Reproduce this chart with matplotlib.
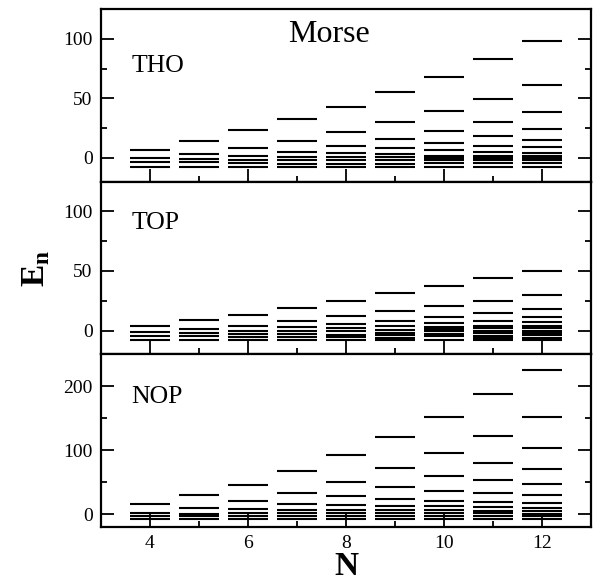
import matplotlib
matplotlib.use("Agg")
import matplotlib.pyplot as plt
from matplotlib.ticker import MultipleLocator

plt.rcParams['font.family'] = ['Liberation Serif', 'DejaVu Serif']
plt.rcParams['mathtext.fontset'] = 'custom'
plt.rcParams['mathtext.rm'] = 'Liberation Serif'
plt.rcParams['mathtext.bf'] = 'Liberation Serif:bold'

# basis size
N_values = [4, 5, 6, 7, 8, 9, 10, 11, 12]

# eigenvalues for each basis size, THO basis
tho_levels = [
    [7.0, -0.3, -3.7, -7.6],
    [14.0, 3.6, -0.6, -3.7, -7.6],
    [23.2, 8.1, 1.9, -1.4, -4.2, -7.6],
    [32.4, 14.5, 5.3, 0.5, -2.0, -4.8, -7.9],
    [43.1, 21.8, 10.1, 3.9, 0.5, -2.0, -4.8, -7.9],
    [55.5, 29.9, 16.2, 8.1, 3.4, 0.8, -2.0, -4.8, -7.9],
    [68.3, 39.5, 22.7, 12.3, 6.4, 1.9, 0.0, -2.0, -4.2, -7.9],
    [82.9, 49.2, 30.5, 18.2, 10.1, 4.7, 1.9, 0.0, -2.0, -4.2, -7.9],
    [98.0, 61.0, 38.9, 24.6, 15.1, 8.7, 4.2, 1.9, 0.0, -2.0, -4.2, -7.9],
]

# TOP basis
top_levels = [
    [3.9, -1.3, -4.5, -7.8],
    [9.0, 1.4, -2.2, -5.0, -8.1],
    [13.4, 4.2, 0.0, -2.8, -5.3, -7.8],
    [19.3, 8.4, 3.1, 0.0, -2.8, -5.3, -8.1],
    [25.2, 11.8, 5.4, 1.7, -0.8, -3.4, -5.5, -8.1],
    [31.4, 16.0, 8.4, 3.4, 0.6, -1.7, -3.9, -5.9, -8.1],
    [37.6, 20.5, 11.3, 5.9, 3.1, 1.2, -0.8, -2.8, -4.7, -8.1],
    [44.0, 25.2, 14.9, 8.4, 4.2, 1.7, -0.3, -2.2, -4.2, -6.1, -8.1],
    [50.4, 30.0, 18.2, 11.3, 7.1, 3.9, 2.0, 0.0, -1.7, -3.6, -5.9, -8.1],
]

# NOP basis
nop_levels = [
    [15.2, 2.2, -3.1, -7.2],
    [29.7, 9.4, 1.1, -3.1, -7.2],
    [45.9, 21.4, 7.8, 1.6, -3.1, -7.2],
    [67.2, 33.9, 16.2, 6.3, 1.6, -2.5, -7.2],
    [92.2, 51.1, 28.1, 14.1, 6.3, 1.6, -2.5, -7.2],
    [120.3, 72.5, 43.3, 24.0, 12.5, 6.3, 1.6, -2.5, -7.2],
    [152.0, 95.3, 60.5, 37.0, 21.4, 12.5, 6.3, 1.6, -2.5, -7.2],
    [187.5, 121.9, 80.8, 53.1, 32.8, 19.4, 10.9, 5.8, 1.6, -2.5, -7.2],
    [226.0, 152.0, 103.8, 71.4, 46.9, 29.7, 17.2, 10.0, 4.7, 1.1, -3.1, -7.2],
]

panels = [
    ('THO', tho_levels, (-20, 125), 50, 25, 0.638),
    ('TOP', top_levels, (-20, 125), 50, 25, 0.723),
    ('NOP', nop_levels, (-20, 250), 100, 50, 0.719),
]

fig = plt.figure(figsize=(5.96, 5.83), dpi=100)
left, right = 101 / 596, 591 / 596
top, bottom = 1 - 9 / 583, 1 - 527 / 583
h = (top - bottom) / 3

axes = []
for i, (name, levels, ylim, major, minor, ylab) in enumerate(panels):
    ax = fig.add_axes([left, top - (i + 1) * h, right - left, h])
    axes.append(ax)
    for n, ev in zip(N_values, levels):
        ax.hlines(ev, n - 0.41, n + 0.41, colors='black', linewidth=1.5)
    ax.set_xlim(3, 13)
    ax.set_ylim(*ylim)
    ax.xaxis.set_major_locator(MultipleLocator(2))
    ax.xaxis.set_minor_locator(MultipleLocator(1))
    ax.yaxis.set_major_locator(MultipleLocator(major))
    ax.yaxis.set_minor_locator(MultipleLocator(minor))
    ax.tick_params(which='both', direction='in', top=False, right=True,
                   width=1.3, labelsize=14)
    ax.tick_params(which='major', length=9.5)
    ax.tick_params(which='minor', length=4.5)
    ax.tick_params(axis='y', pad=6)
    ax.tick_params(axis='x', pad=6)
    for s in ax.spines.values():
        s.set_linewidth(1.6)
    ax.text(0.062, ylab, name, transform=ax.transAxes, fontsize=18.5,
            va='baseline', ha='left')
    if i < 2:
        ax.tick_params(labelbottom=False)

axes[0].text(0.465, 0.811, 'Morse', transform=axes[0].transAxes,
             fontsize=23, ha='center', va='baseline')
fig.text((left + right) / 2, 1 - 575 / 583, 'N', fontsize=24,
         fontweight='bold', ha='center', va='baseline')
fig.text(0.06, (top + bottom) / 2, r'$\mathbf{E}_\mathbf{n}$', fontsize=24,
         rotation=90, ha='center', va='center')

fig.savefig('out.png', dpi=100)
